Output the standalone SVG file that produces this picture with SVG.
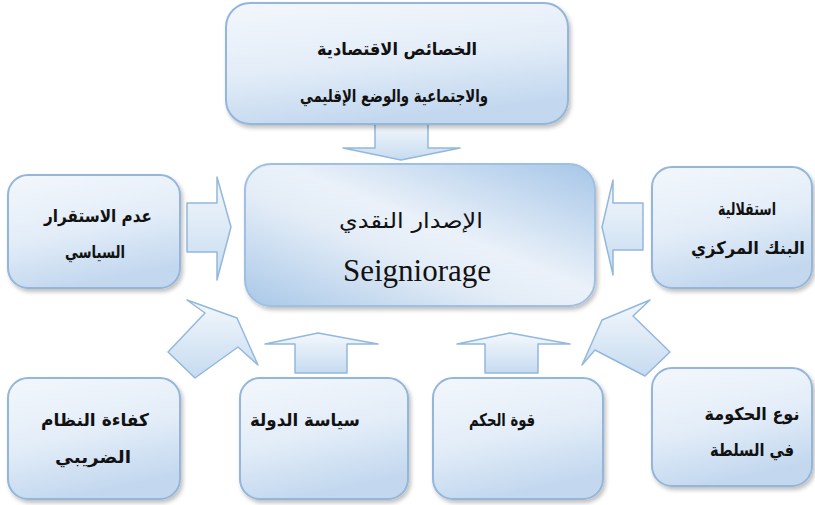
<svg xmlns="http://www.w3.org/2000/svg" width="815" height="505" viewBox="0 0 815 505">
<style>
.box{fill:url(#boxGrad);stroke:#93b6da;stroke-width:2;filter:url(#sh)}
.arr{fill:url(#arrGrad);stroke:#92b8dc;stroke-width:1.5;stroke-linejoin:round}
.ar{font-family:"DejaVu Sans",sans-serif;font-weight:bold;font-size:17.5px;fill:#111;text-anchor:middle}
.arc{font-family:"DejaVu Sans",sans-serif;font-size:21px;fill:#111;text-anchor:middle}
.en{font-family:"Liberation Serif",serif;font-size:31px;fill:#111;text-anchor:middle}
</style>
<defs>
<linearGradient id="boxGrad" x1="0" y1="0" x2="0.3" y2="1">
<stop offset="0" stop-color="#f3f7fc"/>
<stop offset="0.55" stop-color="#e3edf8"/>
<stop offset="1" stop-color="#c3d8ef"/>
</linearGradient>
<linearGradient id="cGrad" x1="1" y1="0" x2="0" y2="1">
<stop offset="0" stop-color="#a6c6e8"/>
<stop offset="0.45" stop-color="#eaf1f9"/>
<stop offset="0.6" stop-color="#e4edf7"/>
<stop offset="1" stop-color="#a9c8e8"/>
</linearGradient>
<linearGradient id="arrGrad" x1="0" y1="0" x2="0" y2="1">
<stop offset="0" stop-color="#f4f8fc"/>
<stop offset="1" stop-color="#c6dbf0"/>
</linearGradient>
<filter id="sh" x="-10%" y="-10%" width="125%" height="130%">
<feGaussianBlur in="SourceAlpha" stdDeviation="2"/>
<feOffset dx="1.5" dy="2.5" result="b"/>
<feComponentTransfer><feFuncA type="linear" slope="0.25"/></feComponentTransfer>
<feMerge><feMergeNode/><feMergeNode in="SourceGraphic"/></feMerge>
</filter>
</defs>
<rect width="815" height="505" fill="#ffffff"/>

<g id="connectors">
<polygon class="arr" points="375,124 428,124 428,148 460,148 401,160 343,148 375,148"/>
<polygon class="arr" points="187,203 217,203 217,177 231,227 217,280 217,252 187,252"/>
<polygon class="arr" points="643,203 613,203 613,180 602,227 613,275 613,250 643,250"/>
<polygon class="arr" points="295,373 295,344 265,344 318,333 378,344 347,344 347,373"/>
<polygon class="arr" points="485,373 485,344 457,344 510,333 570,344 538,344 538,373"/>
<polygon class="arr" points="187,300 237,318 258,365 238,347 195,378 168,352 205,313"/>
<polygon class="arr" points="650,300 633,316 670,352 645,376 595,350 582,365 602,320"/>
</g>

<g id="node-top">
<rect class="box" x="226" y="3" width="342" height="121" rx="24"/>
<text class="ar" x="397" y="55" textLength="160" lengthAdjust="spacingAndGlyphs">الخصائص الاقتصادية</text>
<text class="ar" x="394" y="102" textLength="188" lengthAdjust="spacingAndGlyphs">والاجتماعية والوضع الإقليمي</text>
</g>

<g id="node-center">
<rect x="245" y="164" width="350" height="142" rx="26" fill="url(#cGrad)" stroke="#9fc0e2" stroke-width="2" filter="url(#sh)"/>
<text class="arc" x="411" y="228" textLength="144" lengthAdjust="spacingAndGlyphs">الإصدار النقدي</text>
<text class="en" x="417" y="281">Seigniorage</text>
</g>

<g id="node-left">
<rect class="box" x="8" y="175" width="172" height="113" rx="20"/>
<text class="ar" x="98" y="222" textLength="108" lengthAdjust="spacingAndGlyphs">عدم الاستقرار</text>
<text class="ar" x="95" y="258" textLength="60" lengthAdjust="spacingAndGlyphs">السياسي</text>
</g>

<g id="node-right">
<rect class="box" x="652" y="167" width="160" height="121" rx="20"/>
<text class="ar" x="747" y="215" textLength="58" lengthAdjust="spacingAndGlyphs">استقلالية</text>
<text class="ar" x="748" y="254" textLength="114" lengthAdjust="spacingAndGlyphs">البنك المركزي</text>
</g>

<g id="node-bl">
<rect class="box" x="8" y="378" width="172" height="121" rx="20"/>
<text class="ar" x="95" y="426" textLength="108" lengthAdjust="spacingAndGlyphs">كفاءة النظام</text>
<text class="ar" x="93" y="463" textLength="76" lengthAdjust="spacingAndGlyphs">الضريبي</text>
</g>

<g id="node-bc1">
<rect class="box" x="240" y="378" width="168" height="121" rx="20"/>
<text class="ar" x="305" y="426" textLength="110" lengthAdjust="spacingAndGlyphs">سياسة الدولة</text>
</g>

<g id="node-bc2">
<rect class="box" x="433" y="378" width="170" height="121" rx="20"/>
<text class="ar" x="502" y="426" textLength="66" lengthAdjust="spacingAndGlyphs">قوة الحكم</text>
</g>

<g id="node-br">
<rect class="box" x="652" y="368" width="160" height="118" rx="20"/>
<text class="ar" x="752" y="420" textLength="95" lengthAdjust="spacingAndGlyphs">نوع الحكومة</text>
<text class="ar" x="752" y="456" textLength="84" lengthAdjust="spacingAndGlyphs">في السلطة</text>
</g>
</svg>
